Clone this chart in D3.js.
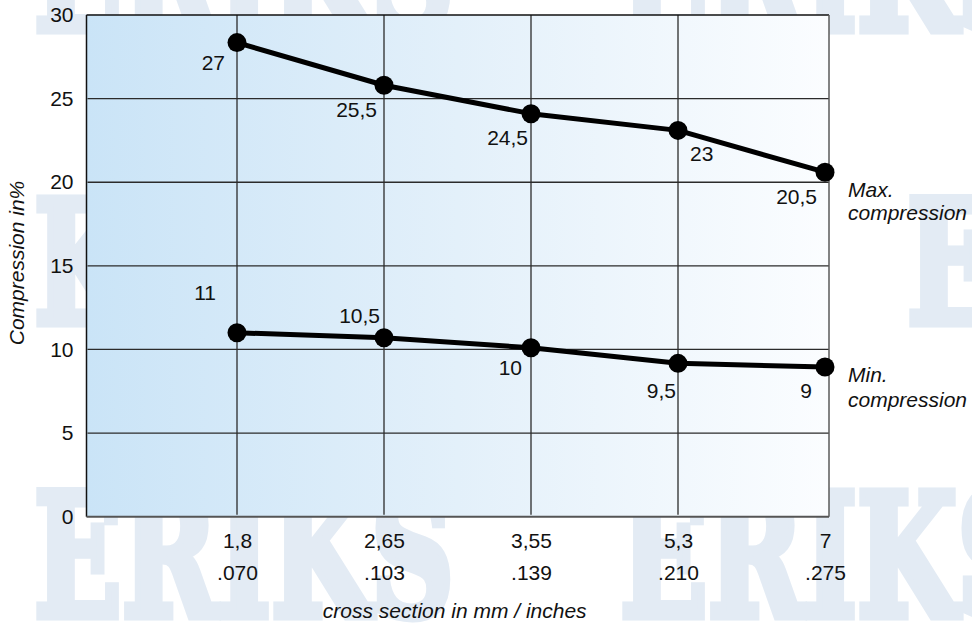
<!DOCTYPE html>
<html>
<head>
<meta charset="utf-8">
<script src="https://cdnjs.cloudflare.com/ajax/libs/d3/7.8.5/d3.min.js"></script>
<style>
  html, body { margin: 0; padding: 0; background: #ffffff; }
  svg { display: block; font-family: "Liberation Sans", Arial, Helvetica, sans-serif; }
</style>
</head>
<body>
<svg id="chart" width="972" height="624"></svg>
<script>
// ---------- data ----------
const categoriesMM = ["1,8", "2,65", "3,55", "5,3", "7"];
const categoriesIn = [".070", ".103", ".139", ".210", ".275"];
const maxValues = [28.35, 25.8, 24.1, 23.1, 20.6];
const minValues = [11.0, 10.7, 10.1, 9.17, 8.95];
const maxLabels = ["27", "25,5", "24,5", "23", "20,5"];
const minLabels = ["11", "10,5", "10", "9,5", "9"];
const yTicks = [0, 5, 10, 15, 20, 25, 30];
const seriesNames = [["Max.", "compression"], ["Min.", "compression"]];

// ---------- layout (not data) ----------
const maxLabelOffsets = [[-12, 27, "end"], [-7, 32, "end"], [-3, 31, "end"], [12, 31, "start"], [-8, 31.5, "end"]];
const minLabelOffsets = [[-21, -33, "end"], [-4, -15, "end"], [-9, 27, "end"], [-2, 35, "end"], [-13, 31, "end"]];

const svg = d3.select("#chart");
const plot = { left: 86.5, right: 829, top: 15, bottom: 516.7 };
const FS = 21;

const x = d3.scalePoint().domain(categoriesMM).range([237, 825]);
const y = d3.scaleLinear().domain([0, 30]).range([plot.bottom, plot.top]);

// ---------- watermark (background logo) ----------
const wm = svg.append("g")
  .attr("fill", "#e3ebf4")
  .attr("stroke", "#e3ebf4")
  .attr("stroke-width", 9)
  .attr("stroke-linejoin", "miter")
  .attr("font-family", "'DejaVu Serif', serif")
  .attr("font-weight", "bold")
  .attr("font-size", 170);
[[34, 30], [620, 30], [34, 616], [620, 616], [907, 323]].forEach(([tx, ty]) => {
  wm.append("text").attr("x", tx).attr("y", ty)
    .attr("textLength", 420).attr("lengthAdjust", "spacingAndGlyphs")
    .text("ERIKS");
});
wm.append("text").attr("x", 34).attr("y", 323)
  .attr("textLength", 185).attr("lengthAdjust", "spacingAndGlyphs")
  .text("KS");

// ---------- plot background ----------
const defs = svg.append("defs");
const grad = defs.append("linearGradient").attr("id", "bg")
  .attr("x1", "0%").attr("x2", "100%").attr("y1", "0%").attr("y2", "0%");
grad.append("stop").attr("offset", "0%").attr("stop-color", "#cae4f7");
grad.append("stop").attr("offset", "50%").attr("stop-color", "#e3f0fa");
grad.append("stop").attr("offset", "100%").attr("stop-color", "#fbfdff");

svg.append("rect")
  .attr("x", plot.left).attr("y", plot.top)
  .attr("width", plot.right - plot.left).attr("height", plot.bottom - plot.top)
  .attr("fill", "url(#bg)");

// ---------- grid ----------
const grid = svg.append("g").attr("stroke", "#2b2b2b").attr("stroke-width", 1.3);
grid.selectAll("line.h").data(yTicks.filter(t => t > 0 && t < 30)).join("line")
  .attr("class", "h")
  .attr("x1", plot.left + 1).attr("x2", plot.right)
  .attr("y1", d => y(d)).attr("y2", d => y(d));
grid.selectAll("line.v").data(categoriesMM.slice(0, -1)).join("line")
  .attr("class", "v")
  .attr("x1", d => x(d)).attr("x2", d => x(d))
  .attr("y1", plot.top).attr("y2", plot.bottom - 2);

// ---------- frame ----------
const frame = svg.append("g").attr("fill", "none");
frame.append("line").attr("x1", plot.left).attr("x2", plot.right).attr("y1", plot.top).attr("y2", plot.top)
  .attr("stroke", "#111").attr("stroke-width", 1.5);
frame.append("line").attr("x1", plot.left).attr("x2", plot.left).attr("y1", plot.top).attr("y2", plot.bottom)
  .attr("stroke", "#111").attr("stroke-width", 1.5);
frame.append("line").attr("x1", plot.right).attr("x2", plot.right).attr("y1", plot.top).attr("y2", plot.bottom)
  .attr("stroke", "#5a5a5a").attr("stroke-width", 1.5);
frame.append("line").attr("x1", plot.left).attr("x2", plot.right).attr("y1", plot.bottom).attr("y2", plot.bottom)
  .attr("stroke", "#555").attr("stroke-width", 2);

// ---------- axes ----------
const yAxis = svg.append("g")
  .attr("transform", `translate(${plot.left},0)`)
  .call(d3.axisLeft(y).tickValues(yTicks).tickSize(0).tickPadding(13));
yAxis.select(".domain").remove();
yAxis.selectAll("text").attr("font-size", FS).attr("fill", "#111")
  .attr("font-family", "'Liberation Sans', Arial, sans-serif");

const xAxis = svg.append("g")
  .attr("transform", `translate(0,${plot.bottom})`)
  .call(d3.axisBottom(x).tickSize(0).tickPadding(16.4));
xAxis.select(".domain").remove();
xAxis.selectAll("text").attr("font-size", FS).attr("fill", "#111")
  .attr("font-family", "'Liberation Sans', Arial, sans-serif");
xAxis.selectAll(".tick").append("text")
  .attr("y", 580 - plot.bottom)
  .attr("text-anchor", "middle")
  .attr("font-size", FS).attr("fill", "#111")
  .attr("font-family", "'Liberation Sans', Arial, sans-serif")
  .text((d, i) => categoriesIn[i]);

svg.append("text")
  .attr("x", (plot.left + plot.right) / 2 - 3).attr("y", 618)
  .attr("text-anchor", "middle").attr("font-style", "italic")
  .attr("font-size", FS).attr("fill", "#111")
  .text("cross section in mm / inches");

svg.append("text")
  .attr("transform", "translate(24,263) rotate(-90)")
  .attr("text-anchor", "middle").attr("font-style", "italic")
  .attr("font-size", FS).attr("fill", "#111")
  .text("Compression in%");

// ---------- series ----------
const line = d3.line().x((d, i) => x(categoriesMM[i])).y(d => y(d));
const series = [
  { values: maxValues, labels: maxLabels, offsets: maxLabelOffsets, name: seriesNames[0], nameY: [197, 220] },
  { values: minValues, labels: minLabels, offsets: minLabelOffsets, name: seriesNames[1], nameY: [382, 407] }
];
series.forEach(s => {
  svg.append("path").datum(s.values)
    .attr("d", line).attr("fill", "none")
    .attr("stroke", "#000").attr("stroke-width", 5).attr("stroke-linejoin", "round");
  svg.append("g").selectAll("circle").data(s.values).join("circle")
    .attr("cx", (d, i) => x(categoriesMM[i])).attr("cy", d => y(d))
    .attr("r", 9.5).attr("fill", "#000");
  svg.append("g").selectAll("text").data(s.values).join("text")
    .attr("x", (d, i) => x(categoriesMM[i]) + s.offsets[i][0])
    .attr("y", (d, i) => y(d) + s.offsets[i][1])
    .attr("text-anchor", (d, i) => s.offsets[i][2])
    .attr("font-size", FS).attr("fill", "#111")
    .text((d, i) => s.labels[i]);
  s.name.forEach((t, k) => {
    svg.append("text").attr("x", 848).attr("y", s.nameY[k])
      .attr("font-style", "italic").attr("font-size", FS).attr("fill", "#111")
      .text(t);
  });
});
</script>
</body>
</html>
